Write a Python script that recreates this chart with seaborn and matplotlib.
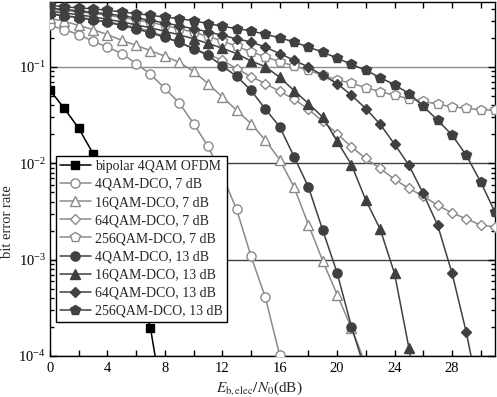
import numpy as np
import pandas as pd
import matplotlib
matplotlib.use("Agg")
import matplotlib.pyplot as plt
from matplotlib.ticker import FixedLocator, FuncFormatter, LogLocator, LogFormatterMathtext, NullFormatter
import seaborn as sns

# ---------------- data ----------------
snr_bipolar = list(range(0, 9))
ber_bipolar = [0.057, 0.037, 0.023, 0.0126, 0.0057, 0.0022, 7.0e-4, 1.94e-4, 2.5e-5]

snr_4qam_7 = list(range(0, 17))
ber_4qam_7 = [0.269, 0.243, 0.216, 0.184, 0.160, 0.137, 0.108, 0.0836, 0.0597, 0.0422,
              0.0258, 0.0150, 0.0075, 0.00331, 0.00109, 4.06e-4, 1.02e-4]

snr_16qam_7 = list(range(0, 23))
ber_16qam_7 = [0.318, 0.296, 0.269, 0.243, 0.216, 0.188, 0.167, 0.147, 0.129, 0.111,
               0.0898, 0.0670, 0.0487, 0.0354, 0.0258, 0.0173, 0.0109, 0.00564, 0.00231,
               9.7e-4, 4.34e-4, 1.95e-4, 8.1e-5]

snr_64qam_7 = list(range(0, 32))
ber_64qam_7 = [0.358, 0.342, 0.326, 0.310, 0.293, 0.275, 0.257, 0.233, 0.207, 0.179,
               0.156, 0.135, 0.117, 0.0957, 0.0791, 0.0670, 0.0557, 0.0461, 0.0363, 0.0272,
               0.0203, 0.0147, 0.0112, 0.00881, 0.00682, 0.00547, 0.00455, 0.00367, 0.00305,
               0.00265, 0.00228, 0.00219]

snr_256qam_7 = list(range(0, 32))
ber_256qam_7 = [0.394, 0.385, 0.371, 0.358, 0.342, 0.326, 0.307, 0.289, 0.269, 0.248,
                0.228, 0.207, 0.186, 0.163, 0.143, 0.127, 0.113, 0.102, 0.0920, 0.0817,
                0.0733, 0.0674, 0.0608, 0.0551, 0.0507, 0.0466, 0.0439, 0.0409, 0.0385,
                0.0371, 0.0358, 0.0354]

snr_4qam_13 = list(range(0, 23))
ber_4qam_13 = [0.350, 0.338, 0.322, 0.307, 0.289, 0.269, 0.248, 0.225, 0.202, 0.179,
               0.154, 0.1316, 0.102, 0.0797, 0.0571, 0.0365, 0.0239, 0.0117, 0.00568,
               0.00202, 7.3e-4, 2.01e-4, 6.8e-5]

snr_16qam_13 = list(range(0, 27))
ber_16qam_13 = [0.376, 0.363, 0.346, 0.330, 0.310, 0.293, 0.272, 0.254, 0.233, 0.215,
                0.195, 0.175, 0.156, 0.137, 0.1148, 0.1005, 0.0778, 0.0567, 0.0416, 0.0300,
                0.0169, 0.00964, 0.00414, 0.00207, 7.2e-4, 1.22e-4, 1.5e-5]

snr_64qam_13 = list(range(0, 31))
ber_64qam_13 = [0.403, 0.394, 0.380, 0.367, 0.354, 0.338, 0.322, 0.303, 0.286, 0.266,
                0.248, 0.231, 0.212, 0.195, 0.181, 0.160, 0.137, 0.117, 0.0995, 0.0817,
                0.0670, 0.0507, 0.0369, 0.0253, 0.0158, 0.00953, 0.00485, 0.00228, 7.3e-4,
                1.76e-4, 3.2e-5]

snr_256qam_13 = list(range(0, 32))
ber_256qam_13 = [0.434, 0.419, 0.408, 0.399, 0.385, 0.371, 0.356, 0.342, 0.328, 0.316,
                 0.300, 0.281, 0.263, 0.249, 0.236, 0.217, 0.200, 0.181, 0.160, 0.142,
                 0.123, 0.106, 0.0920, 0.0773, 0.0651, 0.0528, 0.0390, 0.0279, 0.0197,
                 0.0121, 0.00640, 0.00311]

labels = ["bipolar 4QAM OFDM",
          "4QAM-DCO, 7 dB", "16QAM-DCO, 7 dB", "64QAM-DCO, 7 dB", "256QAM-DCO, 7 dB",
          "4QAM-DCO, 13 dB", "16QAM-DCO, 13 dB", "64QAM-DCO, 13 dB", "256QAM-DCO, 13 dB"]
x_ticks = [0, 4, 8, 12, 16, 20, 24, 28]
x_label = r"$E_{\mathrm{b,elec}}/N_0$(dB)"
y_label = "bit error rate"

# ---------------- style ----------------
sns.set_theme(style="ticks")
plt.rcParams["font.family"] = ["Liberation Serif", "DejaVu Serif"]
plt.rcParams["mathtext.fontset"] = "stix"
plt.rcParams["xtick.direction"] = "in"
plt.rcParams["ytick.direction"] = "in"

series = [
    (snr_bipolar, ber_bipolar, "s", "black", "black", 5.8),
    (snr_4qam_7, ber_4qam_7, "o", "#8a8a8a", "white", 6.6),
    (snr_16qam_7, ber_16qam_7, "^", "#8a8a8a", "white", 7.0),
    (snr_64qam_7, ber_64qam_7, "D", "#8a8a8a", "white", 5.6),
    (snr_256qam_7, ber_256qam_7, "p", "#8a8a8a", "white", 7.0),
    (snr_4qam_13, ber_4qam_13, "o", "#404040", "#404040", 6.6),
    (snr_16qam_13, ber_16qam_13, "^", "#404040", "#404040", 7.0),
    (snr_64qam_13, ber_64qam_13, "D", "#404040", "#404040", 5.6),
    (snr_256qam_13, ber_256qam_13, "p", "#404040", "#404040", 7.0),
]

fig = plt.figure(figsize=(4.97, 3.97), dpi=100)
ax = fig.add_axes([50 / 497, 1 - 356 / 397, 445 / 497, 354 / 397])

for (xs, ys, mk, col, face, ms), lab in zip(series, labels):
    df = pd.DataFrame({"snr": xs, "ber": ys})
    sns.lineplot(data=df, x="snr", y="ber", ax=ax, color=col, marker=mk,
                 markersize=ms, markerfacecolor=face, markeredgecolor=col,
                 markeredgewidth=1.0, linewidth=1.1, label=lab, zorder=3)

ax.set_yscale("log")
ax.set_xlim(0, 31)
ax.set_ylim(1e-4, 0.47)

ax.xaxis.set_major_locator(FixedLocator(list(range(0, 32, 2))))
ax.xaxis.set_major_formatter(FuncFormatter(lambda v, p: f"{int(round(v))}" if int(round(v)) in x_ticks else ""))
ax.yaxis.set_major_locator(LogLocator(base=10, numticks=10))
ax.yaxis.set_major_formatter(LogFormatterMathtext())
ax.yaxis.set_minor_locator(LogLocator(base=10, subs=np.arange(2, 10), numticks=20))
ax.yaxis.set_minor_formatter(NullFormatter())
ax.tick_params(axis="both", which="both", top=True, right=True, colors="black",
               labelsize=10.5, width=1.0)
ax.tick_params(axis="x", which="major", length=4, pad=4)
ax.tick_params(axis="y", which="major", length=5, pad=3)
ax.tick_params(axis="y", which="minor", length=3)
for sp in ax.spines.values():
    sp.set_color("black")
    sp.set_linewidth(1.0)

ax.set_xlabel(x_label, fontsize=11, labelpad=2)
ax.set_ylabel(y_label, fontsize=10.5, labelpad=2)
ax.xaxis.set_label_coords(0.47, -0.065)
ax.yaxis.set_label_coords(-0.081, 0.38)

ax.grid(axis="y", which="major", linewidth=1.0, zorder=1)
fig.canvas.draw()
for loc, gl in zip(ax.yaxis.get_majorticklocs(), ax.get_ygridlines()):
    if abs(np.log10(loc) + 1) < 1e-6:
        gl.set_color("#8c8c8c")
    else:
        gl.set_color("#404040")
ax.set_axisbelow(True)

leg = ax.legend(loc="lower left", bbox_to_anchor=(0.013, 0.096), fontsize=10,
                frameon=True, fancybox=False, framealpha=1, edgecolor="black",
                handlelength=2.2, handletextpad=0.3, labelspacing=0.37,
                borderpad=0.3, borderaxespad=0)
leg.get_frame().set_linewidth(1.0)
leg.set_zorder(5)

fig.savefig("out.png", dpi=100)
